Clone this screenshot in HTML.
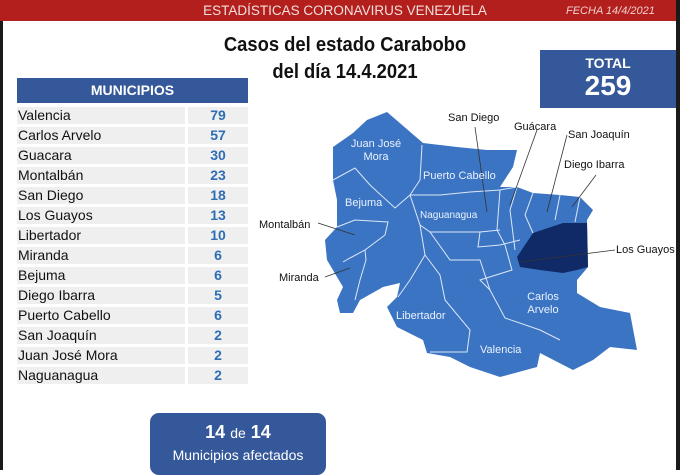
<!DOCTYPE html>
<html><head><meta charset="utf-8"><style>
*{margin:0;padding:0;box-sizing:border-box}
body{width:680px;height:470px;background:#fff;position:relative;overflow:hidden;font-family:"Liberation Sans","DejaVu Sans",sans-serif}
.abs{position:absolute}
.row{position:absolute;left:17px;height:17px;width:231px}
.row .n{position:absolute;left:0;top:0;width:168px;height:17px;background:#efefef;font-size:14px;line-height:17px;padding-left:1px;color:#111}
.row .v{position:absolute;left:171px;top:0;width:60px;height:17px;background:#efefef;font-size:14px;line-height:17px;text-align:center;color:#2f6db5;font-weight:bold}
.lbl{position:absolute;font-size:11px;color:#111;white-space:nowrap}
.wl{position:absolute;font-size:11px;color:#eaf2ff;white-space:nowrap;text-align:center;line-height:13px}
</style></head><body>
<div class="abs" style="left:0;top:0;width:680px;height:21px;background:#b31f1c"></div>
<div class="abs" style="left:0;top:1px;width:680px;text-align:center;color:#f3e0de;font-size:13.5px;line-height:20px;padding-left:10px">ESTADÍSTICAS CORONAVIRUS VENEZUELA</div>
<div class="abs" style="left:566px;top:5px;color:#f0d0d0;font-size:11px;font-style:italic">FECHA 14/4/2021</div>
<div class="abs" style="left:0;top:21px;width:3px;height:449px;background:#1a1a1a"></div>
<div class="abs" style="left:676px;top:0;width:4px;height:470px;background:#1a1a1a"></div>
<div class="abs" style="left:160px;top:32px;width:370px;text-align:center;font-size:20px;font-weight:bold;line-height:27px;color:#111;transform:scaleX(0.92)">Casos del estado Carabobo<br>del día 14.4.2021</div>
<div class="abs" style="left:540px;top:50px;width:136px;height:58px;background:#35589a;color:#fff;text-align:center">
<div style="font-size:14px;font-weight:bold;margin-top:5px">TOTAL</div>
<div style="font-size:28px;font-weight:bold;line-height:30px">259</div></div>
<div class="abs" style="left:17px;top:78px;width:231px;height:25px;background:#35589a;color:#fff;font-weight:bold;font-size:14px;line-height:25px;text-align:center">MUNICIPIOS</div>
<div class="row" style="top:107px"><div class="n">Valencia</div><div class="v">79</div></div>
<div class="row" style="top:127px"><div class="n">Carlos Arvelo</div><div class="v">57</div></div>
<div class="row" style="top:147px"><div class="n">Guacara</div><div class="v">30</div></div>
<div class="row" style="top:167px"><div class="n">Montalbán</div><div class="v">23</div></div>
<div class="row" style="top:187px"><div class="n">San Diego</div><div class="v">18</div></div>
<div class="row" style="top:207px"><div class="n">Los Guayos</div><div class="v">13</div></div>
<div class="row" style="top:227px"><div class="n">Libertador</div><div class="v">10</div></div>
<div class="row" style="top:247px"><div class="n">Miranda</div><div class="v">6</div></div>
<div class="row" style="top:267px"><div class="n">Bejuma</div><div class="v">6</div></div>
<div class="row" style="top:287px"><div class="n">Diego Ibarra</div><div class="v">5</div></div>
<div class="row" style="top:307px"><div class="n">Puerto Cabello</div><div class="v">6</div></div>
<div class="row" style="top:327px"><div class="n">San Joaquín</div><div class="v">2</div></div>
<div class="row" style="top:347px"><div class="n">Juan José Mora</div><div class="v">2</div></div>
<div class="row" style="top:367px"><div class="n">Naguanagua</div><div class="v">2</div></div>
<div class="abs" style="left:150px;top:413px;width:176px;height:62px;background:#35589a;border-radius:9px;color:#fff;text-align:center">
<div style="font-size:18px;margin-top:8px;line-height:22px"><b>14</b> <span style="font-size:14px">de</span> <b>14</b></div>
<div style="font-size:14px;margin-top:3px">Municipios afectados</div></div>
<svg class="abs" style="left:0;top:0" width="680" height="470">
<polygon fill="#3b74c2" points="387,112 423,143 457,147 487,150 517,150 513,167 500,187 517,187 533,193 560,195 580,197 593,210 587,220 588,267 577,280 577,293 600,307 630,313 637,350 610,347 593,360 573,370 540,353 537,367 500,377 470,367 450,357 427,353 423,340 397,327 387,307 397,297 400,283 383,287 360,300 353,313 340,313 337,300 343,287 327,260 325,240 337,227 337,200 333,180 333,147 353,133 367,120"/>
<polygon fill="#0f2a66" points="517,257 533,233 563,223 587,223 588,267 577,270 563,273 540,270 520,267"/>
<g fill="none" stroke="#dce8f8" stroke-width="1">
<path d="M333,180 L355,168 L370,185 L395,208 L410,195 L420,180 L422,145"/>
<path d="M410,195 L440,195 L470,192 L500,190 L517,187"/>
<path d="M410,195 L420,225 L425,255 L410,280 L398,297"/>
<path d="M337,227 L355,220 L388,222 L385,235 L365,250 L350,258 L343,262"/>
<path d="M365,250 L366,260 L360,280 L355,300"/>
<path d="M420,225 L430,232 L480,232 L500,230"/>
<path d="M425,255 L440,275 L445,300 L470,330 L467,352 L430,352"/>
<path d="M430,232 L450,260 L480,260 L490,290 L505,318 L540,330 L560,340"/>
<path d="M480,232 L478,247 L500,245 L520,240"/>
<path d="M500,190 L497,230 L505,245 L512,270 L480,280 L490,290"/>
<path d="M517,187 L510,210 L515,250"/>
<path d="M533,193 L525,215 L533,233"/>
<path d="M560,195 L555,220"/>
<path d="M580,197 L575,222"/>
</g>
<g stroke="#333" stroke-width="0.8">
<line x1="475" y1="127" x2="487" y2="212"/>
<line x1="537" y1="130" x2="510" y2="205"/>
<line x1="567" y1="135" x2="547" y2="212"/>
<line x1="596" y1="175" x2="572" y2="207"/>
<line x1="615" y1="250" x2="520" y2="262"/>
<line x1="318" y1="223" x2="355" y2="235"/>
<line x1="325" y1="277" x2="350" y2="268"/>
</g>
</svg>
<div class="lbl" style="left:448px;top:112px">San Diego</div>
<div class="lbl" style="left:514px;top:121px">Guácara</div>
<div class="lbl" style="left:568px;top:129px">San Joaquín</div>
<div class="lbl" style="left:564px;top:159px">Diego Ibarra</div>
<div class="lbl" style="left:616px;top:244px">Los Guayos</div>
<div class="lbl" style="left:259px;top:219px">Montalbán</div>
<div class="lbl" style="left:279px;top:272px">Miranda</div>
<div class="wl" style="left:348px;top:138px;width:56px">Juan José<br>Mora</div>
<div class="wl" style="left:423px;top:170px">Puerto Cabello</div>
<div class="wl" style="left:345px;top:197px">Bejuma</div>
<div class="wl" style="left:420px;top:209px;font-size:10px">Naguanagua</div>
<div class="wl" style="left:396px;top:310px">Libertador</div>
<div class="wl" style="left:480px;top:344px">Valencia</div>
<div class="wl" style="left:525px;top:291px;width:36px">Carlos<br>Arvelo</div>
</body></html>
